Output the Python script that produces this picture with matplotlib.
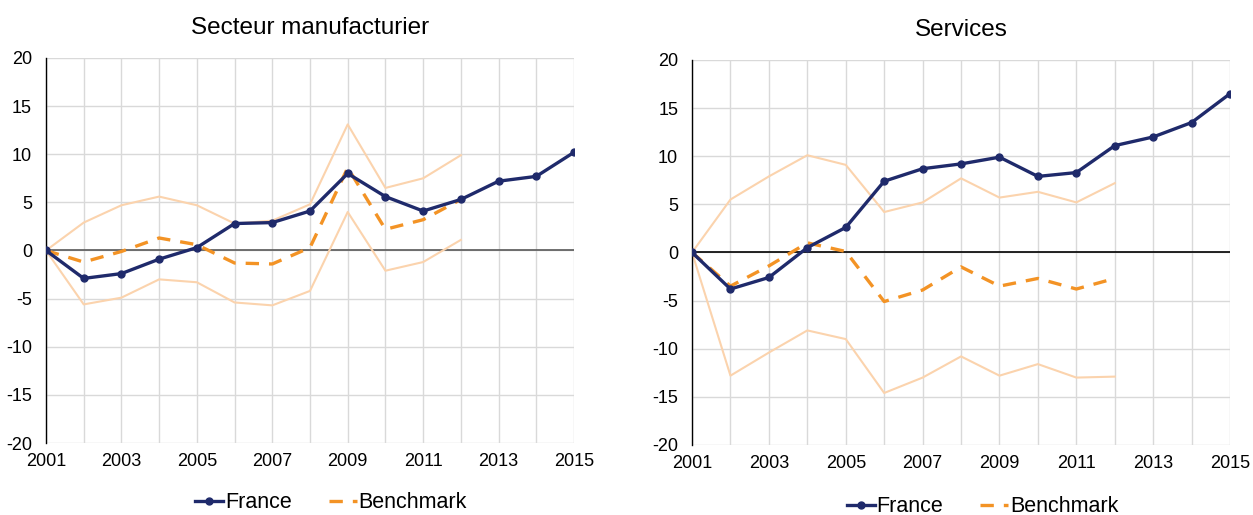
import numpy as np
import matplotlib.pyplot as plt

plt.rcParams['font.family'] = ['Liberation Sans', 'DejaVu Sans']
plt.rcParams['axes.unicode_minus'] = False

years = list(range(2001, 2016))
years_bm = list(range(2001, 2013))

# Secteur manufacturier
manuf_france = [0, -2.9, -2.4, -0.9, 0.3, 2.8, 2.9, 4.1, 8.0, 5.6, 4.1, 5.3, 7.2, 7.7, 10.2]
manuf_bench = [0, -1.2, -0.1, 1.3, 0.6, -1.3, -1.4, 0.3, 8.6, 2.2, 3.2, 5.3]
manuf_high = [0, 2.9, 4.7, 5.6, 4.7, 2.8, 3.1, 4.8, 13.1, 6.5, 7.5, 9.9]
manuf_low = [0, -5.6, -4.9, -3.0, -3.3, -5.4, -5.7, -4.2, 4.0, -2.1, -1.2, 1.1]

# Services
serv_france = [0, -3.8, -2.6, 0.5, 2.6, 7.4, 8.7, 9.2, 9.9, 7.9, 8.3, 11.1, 12.0, 13.5, 16.5]
serv_bench = [0, -3.5, -1.4, 1.0, 0.1, -5.1, -3.9, -1.5, -3.5, -2.7, -3.8, -2.7]
serv_high = [0, 5.5, 7.9, 10.1, 9.1, 4.2, 5.2, 7.7, 5.7, 6.3, 5.2, 7.2]
serv_low = [0, -12.8, -10.4, -8.1, -9.0, -14.6, -13.0, -10.8, -12.8, -11.6, -13.0, -12.9]

navy = '#1f2a6b'
orange = '#f39325'
peach = '#fbd3ad'

fig = plt.figure(figsize=(12.53, 5.15), dpi=100)
ax1 = fig.add_axes([0.0367, 0.1398, 0.4214, 0.7476])
ax2 = fig.add_axes([0.5523, 0.136, 0.4294, 0.7476])


def draw(ax, title, france, bench, high, low, zero_color, leg_y):
    ax.plot(years_bm, high, color=peach, lw=1.5, zorder=2)
    ax.plot(years_bm, low, color=peach, lw=1.5, zorder=2)
    ax.axhline(0, color=zero_color, lw=1.2, zorder=1)
    ax.plot(years, france, color=navy, lw=2.4, marker='o', markersize=5,
            label='France', zorder=4)
    ax.plot(years_bm, bench, color=orange, lw=2.4, dashes=(4, 3),
            label='Benchmark', zorder=3)

    ax.set_xlim(2001, 2015)
    ax.set_ylim(-20, 20)
    ax.set_xticks(years)
    ax.set_xticklabels([str(y) if (y - 2001) % 2 == 0 else '' for y in years])
    ax.set_yticks(range(-20, 21, 5))
    ax.grid(True, color='#d9d9d9', lw=1)
    ax.set_axisbelow(True)
    for s in ['top', 'right', 'bottom']:
        ax.spines[s].set_visible(False)
    ax.spines['left'].set_color('black')
    ax.spines['left'].set_linewidth(1)
    ax.tick_params(length=0, labelsize=13)
    ax.tick_params(axis='x', pad=7)
    ax.tick_params(axis='y', pad=10)
    ax.set_title(title, fontsize=17.5, pad=17)
    ax.legend(loc='center', bbox_to_anchor=(0.54, leg_y), ncol=2, frameon=False,
              fontsize=15.5, handlelength=1.3, handletextpad=0.1,
              columnspacing=1.7)


draw(ax1, 'Secteur manufacturier', manuf_france, manuf_bench, manuf_high,
     manuf_low, '#595959', -0.155)
draw(ax2, 'Services', serv_france, serv_bench, serv_high, serv_low,
     'black', -0.16)

fig.savefig('out.png', dpi=100)
